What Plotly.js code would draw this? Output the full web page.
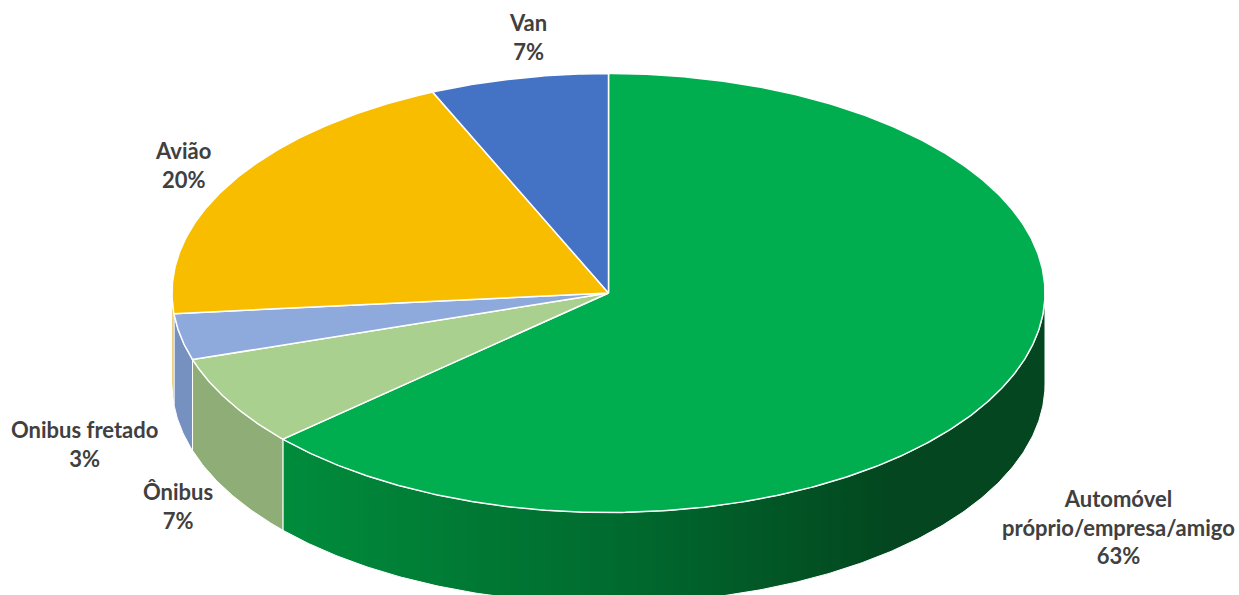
<!DOCTYPE html>
<html>
<head>
<meta charset="utf-8">
<script src="https://cdn.plot.ly/plotly-3.0.1.min.js"></script>
<style>html,body{margin:0;padding:0;background:#fff;}#chart{width:1239px;height:595px;}</style>
</head>
<body>
<div id="chart"></div>
<script>
// ---- data (clockwise from 12 o'clock) ----
const categories = ['Automóvel<br>próprio/empresa/amigo', 'Ônibus', 'Onibus fretado', 'Avião', 'Van'];
const shares = [63.4, 6.7, 3.4, 19.9, 6.6];
const pctLabels = ['63%', '7%', '3%', '20%', '7%'];

// ---- styles ----
const topColors = ['#00AE4F', '#A9D08E', '#8EA9DB', '#F9BD00', '#4472C4'];
const sideColors = ['#008A3C', '#8FAD77', '#7690BF', '#D6A300', '#3A63AC'];
const labelPos = [[1118, 527], [178, 506], [84, 444], [183, 165], [528, 37]];

// ---- geometry (pixel space) ----
const W = 1239, H = 595;
const cx = 608.5, cy = 293, rx = 436.5, ry = 219.5, depth = 91;
const deg = Math.PI / 180;
function pt(t, dy) { return [cx + rx * Math.cos(t * deg), cy - ry * Math.sin(t * deg) + (dy || 0)]; }

const total = shares.reduce((a, b) => a + b, 0);
const traces = [];
const tops = [];
let start = 90;
shares.forEach((v, i) => {
  const sweep = v / total * 360;
  const a1 = start, a2 = start - sweep; // clockwise: decreasing angle
  start = a2;
  // top face
  const xs = [cx], ys = [cy];
  const n = Math.max(8, Math.ceil(sweep * 2));
  for (let k = 0; k <= n; k++) { const p = pt(a1 - sweep * k / n); xs.push(p[0]); ys.push(p[1]); }
  xs.push(cx); ys.push(cy);
  tops.push({ x: xs, y: ys, type: 'scatter', mode: 'lines', fill: 'toself', fillcolor: topColors[i],
    line: { color: '#ffffff', width: 1.5 }, hoverinfo: 'text', text: categories[i].replace('<br>', ' ') + ': ' + pctLabels[i], showlegend: false });
  // side face: visible part where sin(t) < 0
  [[-180, 0], [-540, -360], [180, 360]].forEach(([lo, hi]) => {
    const s = Math.max(a2, lo), e = Math.min(a1, hi);
    if (e - s > 0.05) {
      const sx = [], sy = [];
      const m = Math.max(4, Math.ceil((e - s) * 2));
      for (let k = 0; k <= m; k++) { const p = pt(e - (e - s) * k / m); sx.push(p[0]); sy.push(p[1]); }
      for (let k = m; k >= 0; k--) { const p = pt(e - (e - s) * k / m, depth); sx.push(p[0]); sy.push(p[1]); }
      sx.push(sx[0]); sy.push(sy[0]);
      const tr = { x: sx, y: sy, type: 'scatter', mode: 'lines', fill: 'toself', fillcolor: sideColors[i],
        line: { color: '#ffffff', width: 1 }, hoverinfo: 'skip', showlegend: false };
      if (i === 0) {
        tr.fillgradient = { type: 'horizontal', colorscale: [[0, '#008C3C'], [0.45, '#006A2E'], [0.8, '#03461F'], [1, '#03461F']] };
      }
      traces.push(tr);
    }
  });
});

const annotations = categories.map((c, i) => ({
  x: labelPos[i][0], y: labelPos[i][1], xref: 'x', yref: 'y', showarrow: false,
  text: '<b>' + c + '<br>' + pctLabels[i] + '</b>', align: 'center', xanchor: 'center', yanchor: 'middle',
  font: { family: 'Lato, "Open Sans", sans-serif', size: 22, color: '#404040' }
}));

const layout = {
  width: W, height: H, margin: { l: 0, r: 0, t: 0, b: 0 },
  paper_bgcolor: '#ffffff', plot_bgcolor: '#ffffff',
  xaxis: { range: [0, W], visible: false, fixedrange: true },
  yaxis: { range: [H, 0], visible: false, fixedrange: true },
  annotations: annotations, showlegend: false
};
Plotly.newPlot('chart', traces.concat(tops), layout, { displayModeBar: false, staticPlot: true });
</script>
</body>
</html>
